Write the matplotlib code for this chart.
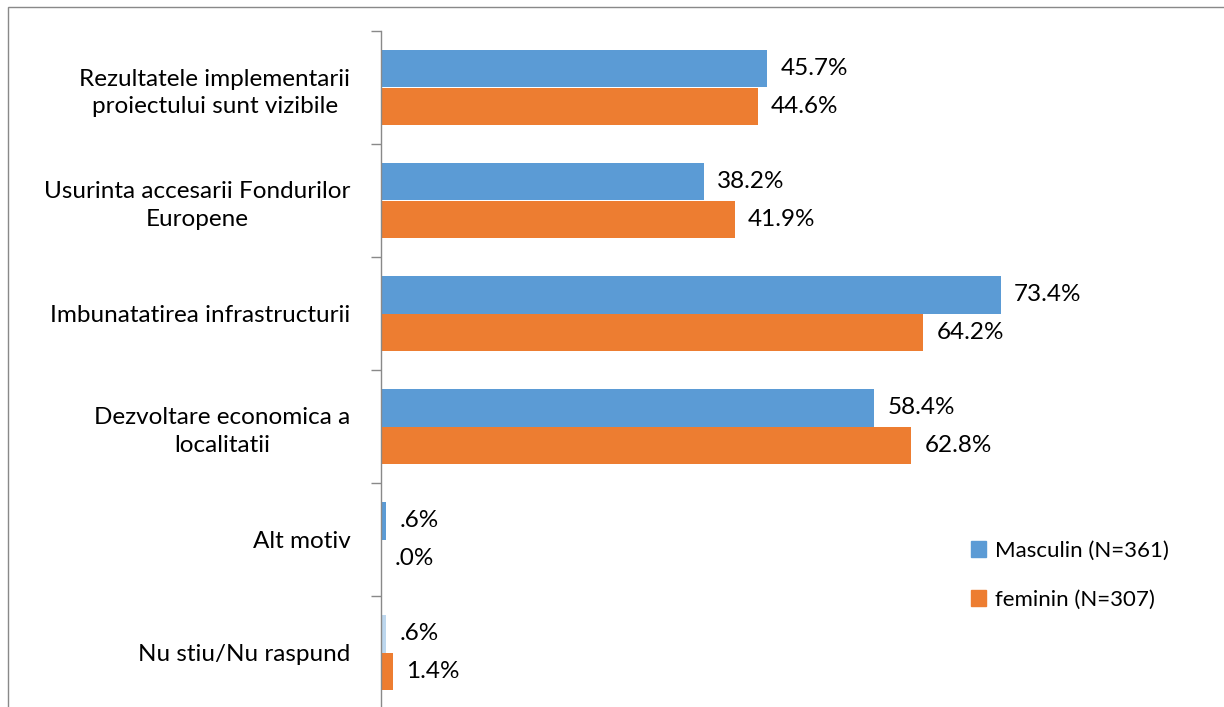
import matplotlib
matplotlib.use("Agg")
import matplotlib.pyplot as plt
from matplotlib.patches import Rectangle
import numpy as np

plt.rcParams['font.family'] = ['Lato', 'DejaVu Sans']

categories = [
    "Rezultatele implementarii\nproiectului sunt vizibile",
    "Usurinta accesarii Fondurilor\nEuropene",
    "Imbunatatirea infrastructurii",
    "Dezvoltare economica a\nlocalitatii",
    "Alt motiv",
    "Nu stiu/Nu raspund",
]
masculin = [45.7, 38.2, 73.4, 58.4, 0.6, 0.6]
feminin = [44.6, 41.9, 64.2, 62.8, 0.0, 1.4]
masculin_labels = ["45.7%", "38.2%", "73.4%", "58.4%", ".6%", ".6%"]
feminin_labels = ["44.6%", "41.9%", "64.2%", "62.8%", ".0%", "1.4%"]
series_names = ["Masculin (N=361)", "feminin (N=307)"]

W, H = 1224, 707
fig = plt.figure(figsize=(W / 100, H / 100), dpi=100)

# outer chart frame (cropped screenshot)
fig.add_artist(Rectangle((8 / W, -0.1), 1.1, (H - 7) / H + 0.1, transform=fig.transFigure,
                         fill=False, edgecolor="#898989", linewidth=1.0))

ax = fig.add_axes([381 / W, -2 / H, 1 - 381 / W, 678 / H])

blue = "#5B9BD5"
orange = "#ED7D31"
light_blue = "#BDD7EE"
y = np.arange(len(categories))
h = 0.333
blue_colors = [blue] * (len(categories) - 1) + [light_blue]
ax.barh(y - h / 2, masculin, height=h, color=blue_colors, label=series_names[0])
ax.barh(y + h / 2, feminin, height=h, color=orange, label=series_names[1])

fs = 17.5
for i in range(len(categories)):
    ax.annotate(masculin_labels[i], (masculin[i], y[i] - h / 2), xytext=(9.5, 0),
                textcoords="offset points", va="center", ha="left", fontsize=fs)
    ax.annotate(feminin_labels[i], (feminin[i], y[i] + h / 2), xytext=(9.5, 0),
                textcoords="offset points", va="center", ha="left", fontsize=fs)

ax.set_xlim(0, (W - 381) / 8.447)
ax.set_ylim(len(categories) - 0.5, -0.5)
ax.set_yticks(y)
ax.set_yticklabels(categories, fontsize=fs, multialignment="center", linespacing=1.4)
ax.tick_params(axis="y", which="major", length=0, pad=22)
ax.set_yticks(np.arange(-0.5, len(categories) + 0.5, 1), minor=True)
ax.tick_params(axis="y", which="minor", length=7, width=1, color="#898989", direction="out")
ax.set_xticks([])
for s in ["top", "right", "bottom"]:
    ax.spines[s].set_visible(False)
ax.spines["left"].set_color("#898989")
ax.spines["left"].set_linewidth(1.0)
ax.patch.set_alpha(0)

handles = [Rectangle((0, 0), 1, 1, color=blue), Rectangle((0, 0), 1, 1, color=orange)]
leg = ax.legend(handles, series_names, loc="upper left", bbox_to_anchor=((962 - 381) / (W - 381), (707 - 530) / 678),
                frameon=False, fontsize=16, handlelength=0.7, handleheight=0.7,
                handletextpad=0.4, labelspacing=1.3, borderaxespad=0)

fig.savefig("out.png", dpi=100)
